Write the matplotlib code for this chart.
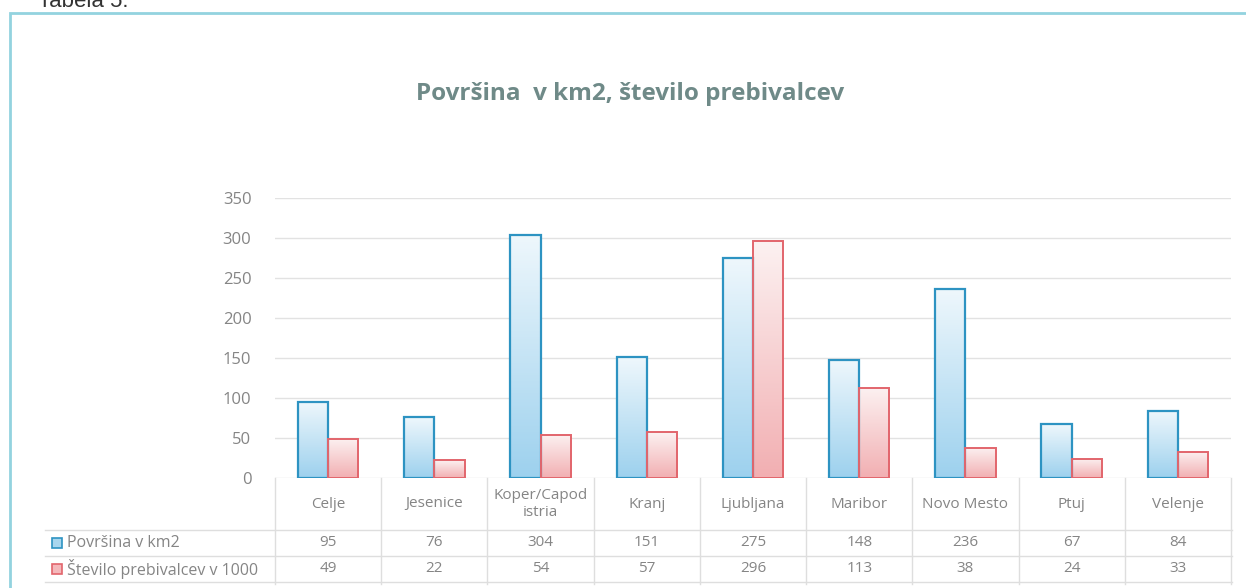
import matplotlib
matplotlib.use("Agg")
import matplotlib.pyplot as plt
import matplotlib.transforms as mtransforms
from matplotlib.patches import Rectangle
from matplotlib.lines import Line2D
from matplotlib.colors import LinearSegmentedColormap
import numpy as np

# ── data ─────────────────────────────────────────────────────────────────────
categories = ["Celje", "Jesenice", "Koper/Capod\nistria", "Kranj", "Ljubljana",
              "Maribor", "Novo Mesto", "Ptuj", "Velenje"]
povrsina = [95, 76, 304, 151, 275, 148, 236, 67, 84]
prebivalci = [49, 22, 54, 57, 296, 113, 38, 24, 33]
series_names = ["Površina v km2", "Število prebivalcev v 1000"]
yticks = [0, 50, 100, 150, 200, 250, 300, 350]
title = "Površina  v km2, število prebivalcev"

W, H = 1246, 588
FONT = ["Open Sans", "DejaVu Sans"]
plt.rcParams["font.family"] = FONT

fig = plt.figure(figsize=(W / 100, H / 100), dpi=100)
fig.patch.set_facecolor("white")

def fx(px):
    return px / W

def fy(py):
    return 1 - py / H

# chart border + caption cut at the top (as in the scan)
fig.patches.append(Rectangle((fx(10), fy(600)), fx(1300), fy(13) - fy(600),
                             transform=fig.transFigure, fill=False,
                             edgecolor="#93d3df", linewidth=2.0))
fig.text(fx(38), fy(7), "Tabela 5.", fontsize=16, color="#333333",
         family=["Liberation Sans", "DejaVu Sans"], ha="left", va="baseline")

fig.text(fx(630), fy(94), title, fontsize=17.5, fontweight="bold",
         color="#6f8a88", ha="center", va="center")

# ── plot area ────────────────────────────────────────────────────────────────
ax = fig.add_axes([fx(275), fy(478), fx(1231) - fx(275), fy(198) - fy(478)])
x = np.arange(len(categories))
w = 0.285

blue_cmap = LinearSegmentedColormap.from_list("b", ["#eef7fc", "#9dd1ee"])
red_cmap = LinearSegmentedColormap.from_list("r", ["#fcf1f1", "#f2afb2"])
grad = np.linspace(0, 1, 100).reshape(-1, 1)

bars_b = ax.bar(x - w / 2, povrsina, w, facecolor="none", edgecolor="#2d93c2",
                linewidth=1.6, zorder=3)
bars_r = ax.bar(x + w / 2, prebivalci, w, facecolor="none", edgecolor="#e2656c",
                linewidth=1.4, zorder=3)

for bars, cmap in ((bars_b, blue_cmap), (bars_r, red_cmap)):
    for b in bars:
        x0, h = b.get_x(), b.get_height()
        im = ax.imshow(grad, extent=[x0, x0 + b.get_width(), 0, h],
                       cmap=cmap, aspect="auto", origin="upper", zorder=2)
        im.set_clip_path(b)

ax.set_xlim(-0.5, len(categories) - 0.5)
ax.set_ylim(0, 350)
ax.set_yticks(yticks)
ax.set_yticklabels([str(t) for t in yticks])
ax.set_xticks([])
ax.tick_params(axis="y", length=0, pad=17, labelsize=12, labelcolor="#858585")
ax.yaxis.grid(True, color="#e2e2e2", linewidth=1.0)
ax.set_axisbelow(True)
for s in ax.spines.values():
    s.set_visible(False)

# ── data table below the axis ────────────────────────────────────────────────
tr = mtransforms.blended_transform_factory(ax.transData, fig.transFigure)
line_kw = dict(color="#dedede", linewidth=1.0)

for b in np.arange(len(categories) + 1) - 0.5:
    fig.add_artist(Line2D([b, b], [fy(478), fy(584)], transform=tr, **line_kw))
for py in (530, 556, 582):
    fig.add_artist(Line2D([fx(45), fx(1232)], [fy(py), fy(py)],
                          transform=fig.transFigure, **line_kw))

txt_kw = dict(fontsize=11, color="#858585", ha="center", va="center")
for i, cat in enumerate(categories):
    fig.text(i, fy(504), cat, transform=tr, linespacing=1.1, **txt_kw)
    fig.text(i, fy(543), str(povrsina[i]), transform=tr, **txt_kw)
    fig.text(i, fy(569), str(prebivalci[i]), transform=tr, **txt_kw)

for py, name, fc, ec in ((543, series_names[0], "#a8d6ee", "#2d93c2"),
                         (569, series_names[1], "#f4b8bb", "#e2656c")):
    fig.patches.append(Rectangle((fx(52), fy(py) - 5 / H), 10 / W, 10 / H,
                                 transform=fig.transFigure, facecolor=fc,
                                 edgecolor=ec, linewidth=1.2))
    fig.text(fx(67), fy(py), name, fontsize=11.5, color="#858585",
             ha="left", va="center")

fig.savefig("out.png", dpi=100)
